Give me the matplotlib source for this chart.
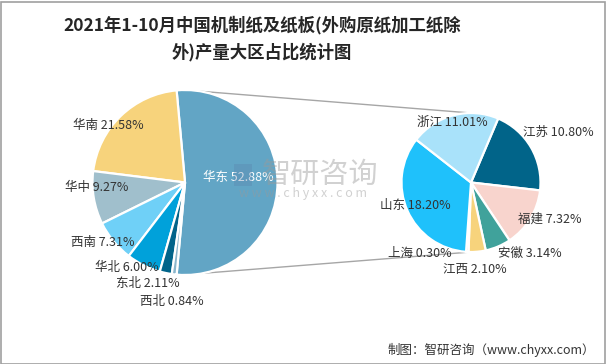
import numpy as np
import matplotlib.pyplot as plt
from matplotlib.patches import Rectangle

plt.rcParams['font.family'] = ['Noto Sans CJK SC', 'DejaVu Sans']

# Data
regions = ['华东', '华南', '华中', '西南', '华北', '东北', '西北']
region_share = [52.88, 21.58, 9.27, 7.31, 6.00, 2.11, 0.84]

provinces = ['江苏', '福建', '安徽', '江西', '上海', '山东', '浙江']
province_share = [10.80, 7.32, 3.14, 2.10, 0.30, 18.20, 11.01]

# Styles
region_colors = ['#62A5C5', '#F7D37C', '#A0BFCC', '#6FD0F7', '#00A1DA', '#01648A', '#8AB6CC']
province_colors = ['#016489', '#F8D4CD', '#40A29B', '#F7D37C', '#B0C4CF', '#1FC1FB', '#A9E2FA']

# label positions in pixels (x, y from top)
region_label_pos = [(238, 177), (108, 125), (97, 187), (103, 242), (127, 268), (148, 283), (172, 302)]
province_label_pos = [(558, 132), (550, 219), (530, 253), (475, 270), (420, 253), (415, 205), (452, 122)]

W, H = 606, 364
fig = plt.figure(figsize=(W / 100, H / 100), dpi=100)
ax = fig.add_axes([0, 0, 1, 1])

left_c = (185, H - 182.5)
left_r = 92.5
right_c = (471, H - 182.5)
right_r = 69.5

# left pie, 华东 centered on the right side
start = -region_share[0] / 100 * 360 / 2
ax.pie(region_share, colors=region_colors, startangle=start, counterclock=True,
       center=left_c, radius=left_r,
       wedgeprops=dict(edgecolor='white', linewidth=1.6))

# right pie, breakdown of 华东
total = sum(province_share)
ax.pie(province_share, colors=province_colors, startangle=67, counterclock=False,
       center=right_c, radius=right_r,
       wedgeprops=dict(edgecolor='white', linewidth=1.6))

# connector lines
for a_left, a_right in [(80.5, 90), (-79, -90)]:
    x1 = left_c[0] + left_r * np.cos(np.radians(a_left))
    y1 = left_c[1] + left_r * np.sin(np.radians(a_left))
    x2 = right_c[0] + right_r * np.cos(np.radians(a_right))
    y2 = right_c[1] + right_r * np.sin(np.radians(a_right))
    ax.plot([x1, x2], [y1, y2], color='#A6A6A6', linewidth=1, zorder=0)

# labels
for i, name in enumerate(regions):
    x, y = region_label_pos[i]
    color = 'white' if i == 0 else '#333333'
    ax.text(x, H - y, name + ' ' + format(region_share[i], '.2f') + '%',
            ha='center', va='center', fontsize=9, color=color, zorder=5)

for i, name in enumerate(provinces):
    x, y = province_label_pos[i]
    ax.text(x, H - y, name + ' ' + format(province_share[i], '.2f') + '%',
            ha='center', va='center', fontsize=9, color='#333333', zorder=5)

# watermark
ax.text(320, H - 175, '智研咨询', ha='center', va='center', fontsize=21,
        color='#9A9A9A', alpha=0.45, zorder=6)
ax.text(303, H - 194, 'w w w . c h y x x . c o m', ha='center', va='center', fontsize=9,
        color='#9A9A9A', alpha=0.45, zorder=6)
ax.add_patch(Rectangle((234, H - 186), 18, 22, facecolor='#5A7FA8', alpha=0.3,
                       edgecolor='none', zorder=6))

ax.set_xlim(0, W)
ax.set_ylim(0, H)
ax.set_aspect('auto')
ax.axis('off')

# title
fig.text(262 / W, 1 - 25 / H, '2021年1-10月中国机制纸及纸板(外购原纸加工纸除',
         ha='center', va='center', fontsize=12.5, fontweight='bold', color='#262626')
fig.text(262 / W, 1 - 52 / H, '外)产量大区占比统计图',
         ha='center', va='center', fontsize=12.5, fontweight='bold', color='#262626')

# source
fig.text(595 / W, 1 - 350 / H, '制图：智研咨询（www.chyxx.com）',
         ha='right', va='center', fontsize=9, color='#333333')

# border
fig.patches.append(Rectangle((0.5 / W, 0.5 / H), 1 - 2 / W, 1 - 2 / H, transform=fig.transFigure,
                             fill=False, edgecolor='#A0A0A0', linewidth=1.2))

plt.savefig('out.png', dpi=100)
